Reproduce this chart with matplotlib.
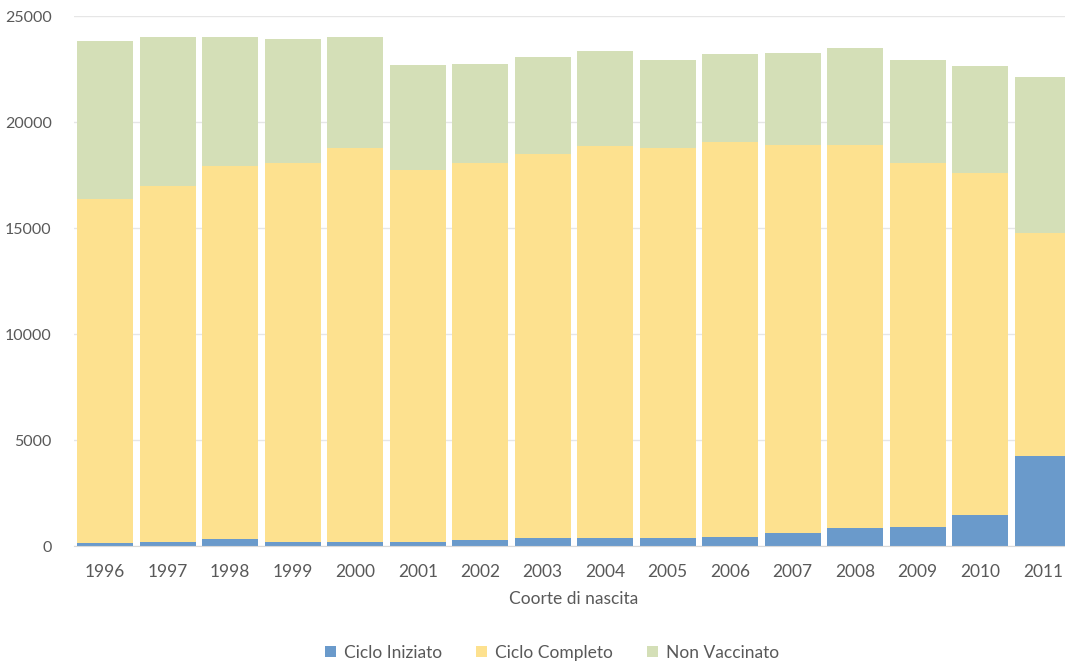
import matplotlib
matplotlib.use("Agg")
import matplotlib.pyplot as plt
import numpy as np

years = ["1996", "1997", "1998", "1999", "2000", "2001", "2002", "2003",
         "2004", "2005", "2006", "2007", "2008", "2009", "2010", "2011"]
ciclo_iniziato = [150, 200, 320, 190, 200, 200, 280, 380, 400, 400, 440, 600, 850, 910, 1450, 4250]
ciclo_completo = [16230, 16780, 17600, 17860, 18570, 17540, 17770, 18110, 18470, 18370, 18620, 18330, 18080, 17170, 16160, 10530]
non_vaccinato = [7430, 7050, 6110, 5880, 5220, 4960, 4690, 4560, 4490, 4160, 4150, 4340, 4560, 4850, 5030, 7360]
series_names = ["Ciclo Iniziato", "Ciclo Completo", "Non Vaccinato"]
colors = ["#6A9ACB", "#FDE18F", "#D4DFB7"]

plt.rcParams['font.family'] = ['Lato', 'DejaVu Sans']

W, H = 1065, 662
fig = plt.figure(figsize=(W / 100, H / 100), dpi=100)
ax = fig.add_axes([74 / W, (H - 546) / H, 1000 / W, 530 / H])

x = np.arange(len(years))
b1 = np.array(ciclo_iniziato)
b2 = np.array(ciclo_completo)
b3 = np.array(non_vaccinato)
width = 0.89
ax.bar(x, b1, width, color=colors[0], label=series_names[0], zorder=2)
ax.bar(x, b2, width, bottom=b1, color=colors[1], label=series_names[1], zorder=2)
ax.bar(x, b3, width, bottom=b1 + b2, color=colors[2], label=series_names[2], zorder=2)

ax.set_xlim(-0.5, len(years) - 0.5)
ax.set_ylim(0, 25000)
ax.set_yticks(np.arange(0, 25001, 5000))
ax.set_xticks(x)
ax.set_xticklabels(years)
ax.yaxis.grid(True, color="#E6E6E6", linewidth=1.0, zorder=0)
ax.set_axisbelow(True)
for s in ["top", "right", "left"]:
    ax.spines[s].set_visible(False)
ax.spines["bottom"].set_color("#D9D9D9")
ax.tick_params(axis="both", length=0, colors="#595959")
ax.tick_params(axis="y", pad=16, labelsize=11.5)
ax.tick_params(axis="x", pad=13, labelsize=12.5)
ax.set_xlabel("Coorte di nascita", color="#595959", fontsize=12.5, labelpad=8)

handles, labels = ax.get_legend_handles_labels()
fig.legend(handles, labels, loc="center", bbox_to_anchor=(552 / W, 1 - 653 / H),
           ncol=3, frameon=False, fontsize=12.5, labelcolor="#595959",
           handlelength=0.6, handleheight=0.6, columnspacing=2.0, handletextpad=0.45)

fig.savefig("out.png", dpi=100)
